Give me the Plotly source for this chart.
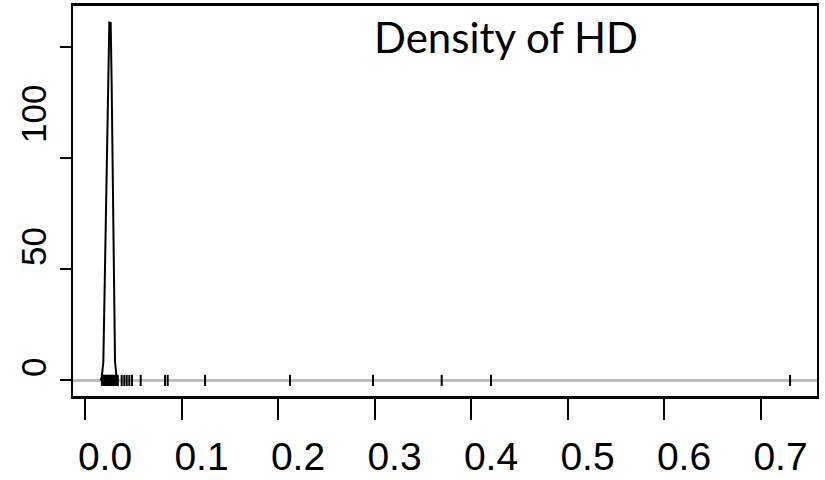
import plotly.graph_objects as go

# Density curve of HD (x, density)
dens_x = [0.0160, 0.0173, 0.0190, 0.0252, 0.0266, 0.0276, 0.0311, 0.0328, 0.0340]
dens_y = [0.0, 1.1, 8.4, 160.8, 160.7, 133.7, 8.4, 1.1, 0.0]

# Rug of observed HD values
rug_x = [0.0175, 0.018, 0.019, 0.020, 0.021, 0.022, 0.023, 0.024, 0.025, 0.026,
         0.027, 0.028, 0.029, 0.030, 0.031, 0.032, 0.033, 0.034,
         0.0380, 0.0407, 0.0432, 0.0459, 0.0487, 0.0577, 0.0829, 0.0857,
         0.1244, 0.2124, 0.2984, 0.3696, 0.4207, 0.7306]

x_ticks = [0.0, 0.1, 0.2, 0.3, 0.4, 0.5, 0.6, 0.7]
x_tick_labels = ["0.0", "0.1", "0.2", "0.3", "0.4", "0.5", "0.6", "0.7"]
y_ticks = [0, 50, 100, 150]
y_label_text = ["0", "50", "100"]
y_label_pos = [5.6, 60, 119.8]

title_text = "Density of HD"

fig = go.Figure()
fig.add_trace(go.Scatter(x=dens_x, y=dens_y, mode="lines",
                         line=dict(color="black", width=2), hoverinfo="skip"))
fig.add_trace(go.Scatter(x=rug_x, y=[0] * len(rug_x), mode="markers",
                         marker=dict(symbol="line-ns", size=8,
                                     line=dict(color="black", width=2)),
                         hoverinfo="skip"))

fig.add_shape(type="line", xref="paper", x0=0, x1=1, yref="y", y0=0, y1=0,
              line=dict(color="#bebebe", width=3), layer="below")

for t, p in zip(y_label_text, y_label_pos):
    fig.add_annotation(text=t, xref="paper", x=-0.0524, yref="y", y=p,
                       xanchor="center", yanchor="middle", textangle=-90,
                       showarrow=False,
                       font=dict(family="Liberation Sans, Arial", size=35, color="black"))

fig.add_annotation(text=title_text, xref="paper", x=0.582, yref="paper", y=0.9205,
                   xanchor="center", yanchor="middle", showarrow=False,
                   font=dict(family="Lato", size=42, color="black"))

fig.update_layout(
    width=825, height=480,
    margin=dict(l=73, r=8, t=6, b=84, autoexpand=False),
    paper_bgcolor="white", plot_bgcolor="white",
    showlegend=False,
    xaxis=dict(range=[-0.01244, 0.7585], tickvals=x_ticks, ticktext=x_tick_labels,
               ticks="outside", ticklen=21, tickwidth=2, tickcolor="black",
               showgrid=False, zeroline=False, automargin=False,
               showline=True, linecolor="black", linewidth=3, mirror=True,
               ticklabelshift=20, ticklabelstandoff=3,
               tickfont=dict(family="Liberation Sans, Arial", size=39, color="black")),
    yaxis=dict(range=[-7.0, 168.3], tickvals=y_ticks, showticklabels=False,
               ticks="outside", ticklen=11, tickwidth=2, tickcolor="black",
               showgrid=False, zeroline=False, automargin=False,
               showline=True, linecolor="black", linewidth=2, mirror=True),
)

fig.write_html("out.html", config={"displayModeBar": False},
               post_script="document.body.style.margin='0';")
